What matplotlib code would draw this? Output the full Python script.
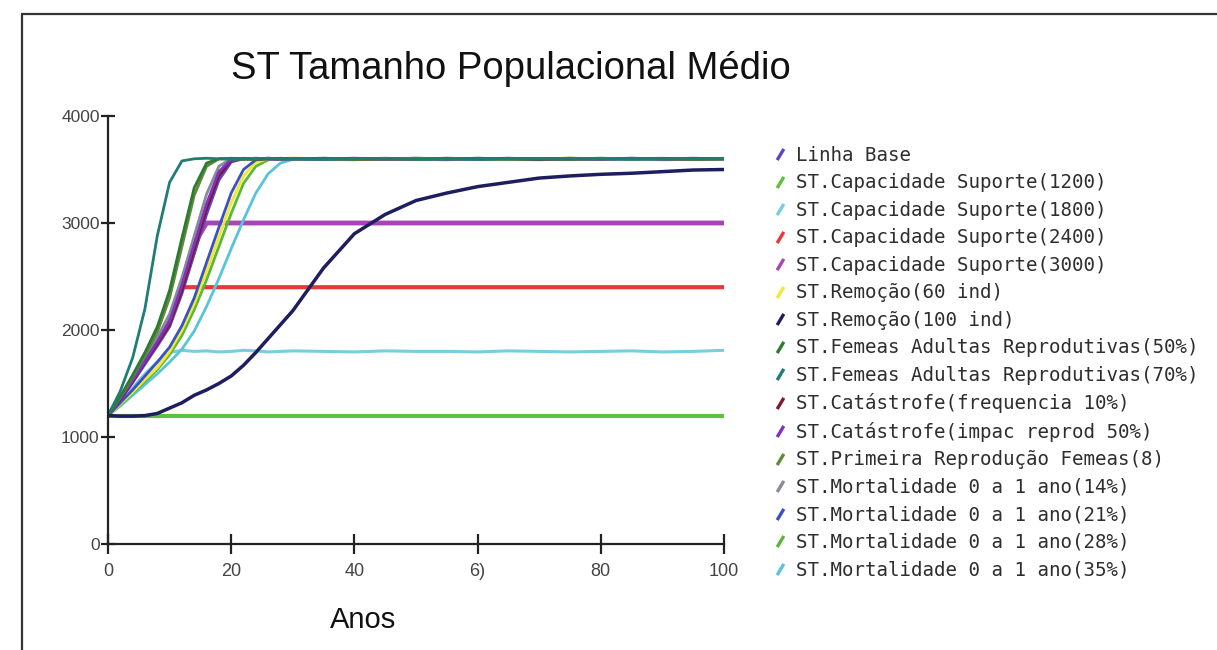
import numpy as np
import matplotlib.pyplot as plt
from matplotlib.lines import Line2D
from matplotlib.patches import Rectangle

# anos simulados (passo 2 ate 30, depois passo 5)
anos = [0, 2, 4, 6, 8, 10, 12, 14, 16, 18, 20, 22, 24, 26, 28, 30,
        35, 40, 45, 50, 55, 60, 65, 70, 75, 80, 85, 90, 95, 100]

linha_base = [1200, 1350, 1510, 1680, 1850, 2030, 2340, 2710, 3080, 3400, 3570, 3600, 3605, 3600, 3595, 3600,
              3605, 3600, 3595, 3600, 3600, 3605, 3600, 3595, 3600, 3600, 3605, 3600, 3600, 3600]
cap_1200 = [1200] * 30
cap_1800 = [1200, 1330, 1460, 1590, 1700, 1790, 1810, 1800, 1805, 1795, 1800, 1810, 1805, 1795, 1800, 1805,
            1800, 1795, 1805, 1800, 1800, 1795, 1805, 1800, 1795, 1800, 1805, 1795, 1800, 1810]
cap_2400 = [1200, 1360, 1530, 1710, 1890, 2080, 2400, 2400, 2400, 2400, 2400, 2400, 2400, 2400, 2400, 2400,
            2400, 2400, 2400, 2400, 2400, 2400, 2400, 2400, 2400, 2400, 2400, 2400, 2400, 2400]
cap_3000 = [1200, 1360, 1530, 1710, 1890, 2080, 2420, 2810, 3000, 3000, 3000, 3000, 3000, 3000, 3000, 3000,
            3000, 3000, 3000, 3000, 3000, 3000, 3000, 3000, 3000, 3000, 3000, 3000, 3000, 3000]
remocao_60 = [1200, 1310, 1420, 1540, 1650, 1800, 2000, 2250, 2550, 2870, 3190, 3440, 3570, 3600, 3600, 3605,
              3600, 3595, 3600, 3605, 3600, 3600, 3595, 3600, 3605, 3600, 3600, 3595, 3600, 3600]
remocao_100 = [1200, 1195, 1195, 1200, 1220, 1270, 1320, 1390, 1440, 1500, 1570, 1670, 1790, 1920, 2050, 2180,
               2580, 2900, 3080, 3210, 3280, 3340, 3380, 3420, 3440, 3455, 3465, 3480, 3495, 3500]
femeas_50 = [1200, 1380, 1580, 1790, 2030, 2370, 2860, 3330, 3560, 3600, 3605, 3600, 3595, 3600, 3600, 3600,
             3605, 3600, 3600, 3595, 3600, 3605, 3600, 3600, 3595, 3600, 3600, 3605, 3600, 3600]
femeas_70 = [1200, 1430, 1740, 2200, 2880, 3380, 3580, 3600, 3605, 3600, 3595, 3600, 3600, 3605, 3600, 3600,
             3595, 3600, 3605, 3600, 3600, 3595, 3600, 3600, 3605, 3600, 3595, 3600, 3600, 3600]
catastrofe_freq = [1200, 1350, 1520, 1700, 1870, 2050, 2370, 2750, 3130, 3440, 3590, 3600, 3595, 3600, 3605, 3600,
                   3600, 3595, 3600, 3600, 3605, 3600, 3600, 3595, 3600, 3600, 3605, 3600, 3595, 3600]
catastrofe_impac = [1200, 1360, 1530, 1710, 1890, 2080, 2420, 2800, 3180, 3480, 3595, 3605, 3600, 3600, 3595, 3600,
                    3600, 3605, 3600, 3600, 3595, 3600, 3605, 3600, 3600, 3595, 3600, 3600, 3605, 3600]
primeira_repr = [1200, 1370, 1560, 1760, 1980, 2300, 2780, 3260, 3530, 3600, 3600, 3595, 3600, 3605, 3600, 3600,
                 3600, 3595, 3600, 3605, 3600, 3600, 3595, 3600, 3600, 3605, 3600, 3600, 3595, 3600]
mort_14 = [1200, 1370, 1550, 1740, 1930, 2150, 2490, 2880, 3270, 3530, 3600, 3600, 3605, 3600, 3595, 3600,
           3600, 3605, 3600, 3595, 3600, 3600, 3605, 3600, 3595, 3600, 3600, 3600, 3605, 3600]
mort_21 = [1200, 1320, 1440, 1570, 1700, 1840, 2040, 2300, 2630, 2960, 3280, 3500, 3590, 3605, 3600, 3600,
           3595, 3600, 3600, 3605, 3600, 3595, 3600, 3600, 3605, 3600, 3600, 3595, 3600, 3600]
mort_28 = [1200, 1300, 1410, 1520, 1630, 1770, 1950, 2190, 2470, 2780, 3090, 3370, 3530, 3590, 3600, 3605,
           3600, 3600, 3595, 3600, 3605, 3600, 3600, 3595, 3600, 3605, 3600, 3600, 3600, 3605]
mort_35 = [1200, 1290, 1390, 1490, 1590, 1700, 1820, 1990, 2220, 2480, 2760, 3030, 3280, 3460, 3560, 3595,
           3595, 3590, 3600, 3595, 3590, 3600, 3595, 3590, 3600, 3595, 3600, 3590, 3595, 3600]

nomes = [
    "Linha Base",
    "ST.Capacidade Suporte(1200)",
    "ST.Capacidade Suporte(1800)",
    "ST.Capacidade Suporte(2400)",
    "ST.Capacidade Suporte(3000)",
    "ST.Remoção(60 ind)",
    "ST.Remoção(100 ind)",
    "ST.Femeas Adultas Reprodutivas(50%)",
    "ST.Femeas Adultas Reprodutivas(70%)",
    "ST.Catástrofe(frequencia 10%)",
    "ST.Catástrofe(impac reprod 50%)",
    "ST.Primeira Reprodução Femeas(8)",
    "ST.Mortalidade 0 a 1 ano(14%)",
    "ST.Mortalidade 0 a 1 ano(21%)",
    "ST.Mortalidade 0 a 1 ano(28%)",
    "ST.Mortalidade 0 a 1 ano(35%)",
]
series = [linha_base, cap_1200, cap_1800, cap_2400, cap_3000, remocao_60, remocao_100,
          femeas_50, femeas_70, catastrofe_freq, catastrofe_impac, primeira_repr,
          mort_14, mort_21, mort_28, mort_35]

cores = ["#5a44c8", "#5cc040", "#78cde0", "#e8383a", "#a546b4", "#f0e83a", "#1e1e5e",
         "#2e7a34", "#1f7d72", "#86162e", "#7a34c0", "#5e8a3a",
         "#8a8a98", "#3a50c8", "#58b838", "#58c4dc"]
larguras = [2, 3, 2.2, 3, 3.5, 2.2, 2.5, 2, 2, 2, 2, 2, 2, 2, 2, 2]
# ordem de desenho: as linhas de fundo primeiro
ordem = [1, 2, 3, 4, 15, 14, 5, 13, 0, 12, 9, 10, 11, 7, 8, 6]

fig = plt.figure(figsize=(12.17, 6.5), dpi=100)
ax = fig.add_axes([108 / 1217, 1 - 544 / 650, (724 - 108) / 1217, (544 - 116) / 650])

for i in ordem:
    ax.plot(anos, series[i], color=cores[i], lw=larguras[i], solid_capstyle="butt")

ax.set_xlim(0, 100)
ax.set_ylim(0, 4000)
ax.set_xticks([0, 20, 40, 60, 80, 100])
ax.set_xticklabels(["0", "20", "40", "6)", "80", "100"])
ax.set_yticks([0, 1000, 2000, 3000, 4000])
for s in ["top", "right"]:
    ax.spines[s].set_visible(False)
for s in ["left", "bottom"]:
    ax.spines[s].set_linewidth(1.6)
    ax.spines[s].set_color("#222222")
ax.tick_params(axis="x", direction="inout", length=14, width=1.6, pad=7, colors="#222222",
               labelsize=13, labelcolor="#444444")
ax.tick_params(axis="y", direction="inout", length=10, width=1.6, pad=1, colors="#222222",
               labelsize=12.5, labelcolor="#444444")
for lab in ax.get_xticklabels() + ax.get_yticklabels():
    lab.set_family("Liberation Sans")

fig.text(511 / 1217, 1 - 69 / 650, "ST Tamanho Populacional Médio", family="Liberation Sans",
         fontsize=27.5, ha="center", va="center", color="#111111")
fig.text(363 / 1217, 1 - 620 / 650, "Anos", family="Liberation Sans",
         fontsize=21, ha="center", va="center", color="#111111")

# legenda com marcador em barra
barra = [(-0.6, -1.0), (0.6, 1.0)]
handles = [Line2D([], [], color=c, marker=barra, markersize=8, mew=2.4, linestyle="none")
           for c in cores]
leg = fig.legend(handles, nomes, loc="upper left", bbox_to_anchor=(774 / 1217, 1 - 146 / 650),
                 frameon=False, handlelength=0.6, handletextpad=0.55, labelspacing=0.445,
                 prop={"family": "DejaVu Sans Mono", "size": 13.75}, borderaxespad=0, borderpad=0)
for t in leg.get_texts():
    t.set_color("#2e2e2e")

# moldura externa
fig.add_artist(Rectangle((22 / 1217, -0.1), 1.2, 0.1 + (1 - 14 / 650), transform=fig.transFigure,
                         fill=False, edgecolor="#333333", lw=1.6))

fig.savefig("out.png", dpi=100)
